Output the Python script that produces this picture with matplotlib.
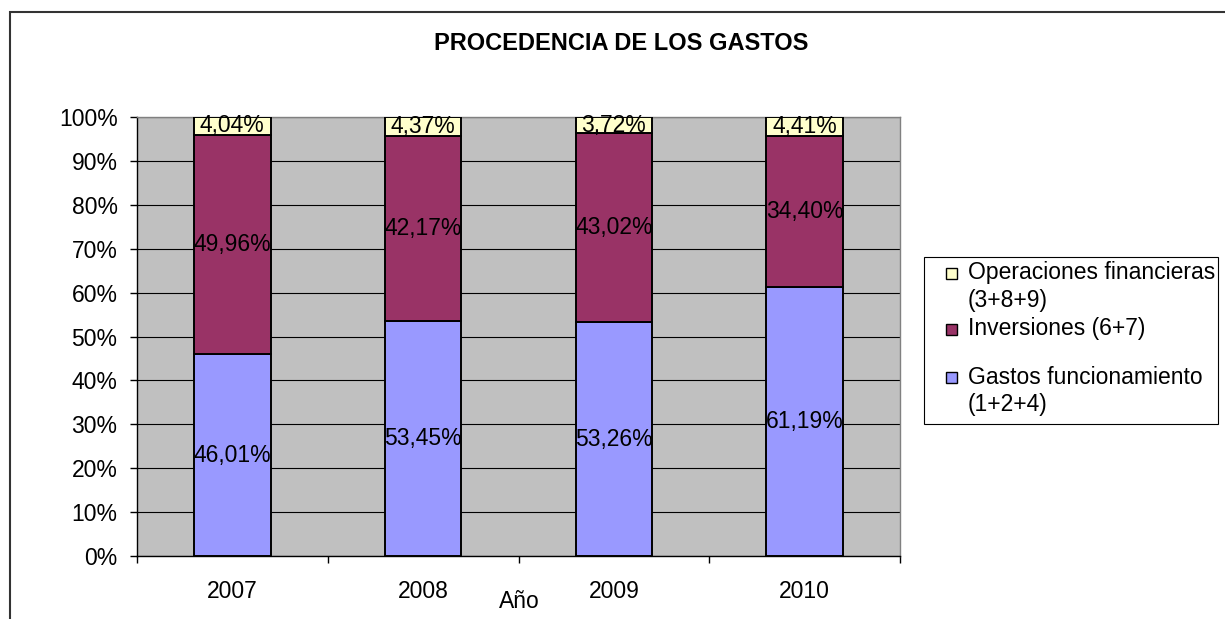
import numpy as np
import matplotlib.pyplot as plt
from matplotlib.patches import Rectangle

plt.rcParams['font.family'] = ['Liberation Sans', 'DejaVu Sans']

years = ['2007', '2008', '2009', '2010']
gastos_func = [46.01, 53.45, 53.26, 61.19]
inversiones = [49.96, 42.17, 43.02, 34.40]
op_financieras = [4.04, 4.37, 3.72, 4.41]

series_names = ['Gastos funcionamiento\n(1+2+4)', 'Inversiones (6+7)',
                'Operaciones financieras\n(3+8+9)']
colors = ['#9999FF', '#993366', '#FFFFCC']

W, H = 1225, 619
fig = plt.figure(figsize=(W / 100, H / 100), dpi=100)


def fx(px):
    return px / W


def fy(py):
    return 1 - py / H


# outer chart frame (runs off the right/bottom edge like the screenshot)
fig.add_artist(Rectangle((fx(10), -0.1), 1.2, fy(12) + 0.1, transform=fig.transFigure,
                         fill=False, edgecolor='#333333', linewidth=1.5))

ax = fig.add_axes([fx(137), fy(556), fx(900) - fx(137), fy(117) - fy(556)])
ax.set_facecolor('#C0C0C0')

x = np.arange(len(years))
bottom = np.zeros(len(years))
for vals, col in zip([gastos_func, inversiones, op_financieras], colors):
    vals = np.array(vals) / 100.0
    ax.bar(x, vals, 0.4, bottom=bottom, color=col, edgecolor='black', linewidth=1.4, zorder=3)
    for xi, b, v in zip(x, bottom, vals):
        lbl = f'{v * 100:.2f}'.replace('.', ',') + '%'
        ax.text(xi, b + v / 2, lbl, ha='center', va='center', fontsize=16.5, zorder=4)
    bottom += vals

ax.set_xlim(-0.5, 3.5)
ax.set_ylim(0, 1)

yt = np.arange(0, 1.01, 0.1)
ax.set_yticks(yt)
ax.set_yticklabels([f'{int(round(t * 100))}%' for t in yt])
ax.tick_params(axis='y', length=5, width=1, pad=9, labelsize=16.5)
ax.yaxis.grid(True, color='black', linewidth=0.8)
ax.set_axisbelow(True)

ax.set_xticks(x)
ax.set_xticklabels(years)
ax.set_xticks(np.arange(-0.5, 4, 1), minor=True)
ax.tick_params(axis='x', which='major', length=0, pad=17, labelsize=16.5)
ax.tick_params(axis='x', which='minor', length=5, width=1)

for s in ['left', 'bottom']:
    ax.spines[s].set_color('black')
    ax.spines[s].set_linewidth(1)
for s in ['top', 'right']:
    ax.spines[s].set_color('#808080')
    ax.spines[s].set_linewidth(1)

fig.text(fx(621), fy(43), 'PROCEDENCIA DE LOS GASTOS', ha='center', va='center',
         fontsize=17, fontweight='bold')
fig.text(fx(519), fy(602), 'Año', ha='center', va='center', fontsize=16.5)

# legend drawn by hand, Excel style
fig.add_artist(Rectangle((fx(924), fy(424)), fx(1218) - fx(924), fy(257) - fy(424),
                         transform=fig.transFigure, facecolor='white',
                         edgecolor='black', linewidth=0.8))
legend_y = [273, 329, 377]
for name, col, y0 in zip(series_names[::-1], colors[::-1], legend_y):
    fig.add_artist(Rectangle((fx(946), fy(y0 + 6)), 11 / W, 11 / H, transform=fig.transFigure,
                             facecolor=col, edgecolor='black', linewidth=1))
    for i, line in enumerate(name.split('\n')):
        fig.text(fx(968), fy(y0 + i * 27), line, va='center', fontsize=16.5)

fig.savefig('out.png', dpi=100)
